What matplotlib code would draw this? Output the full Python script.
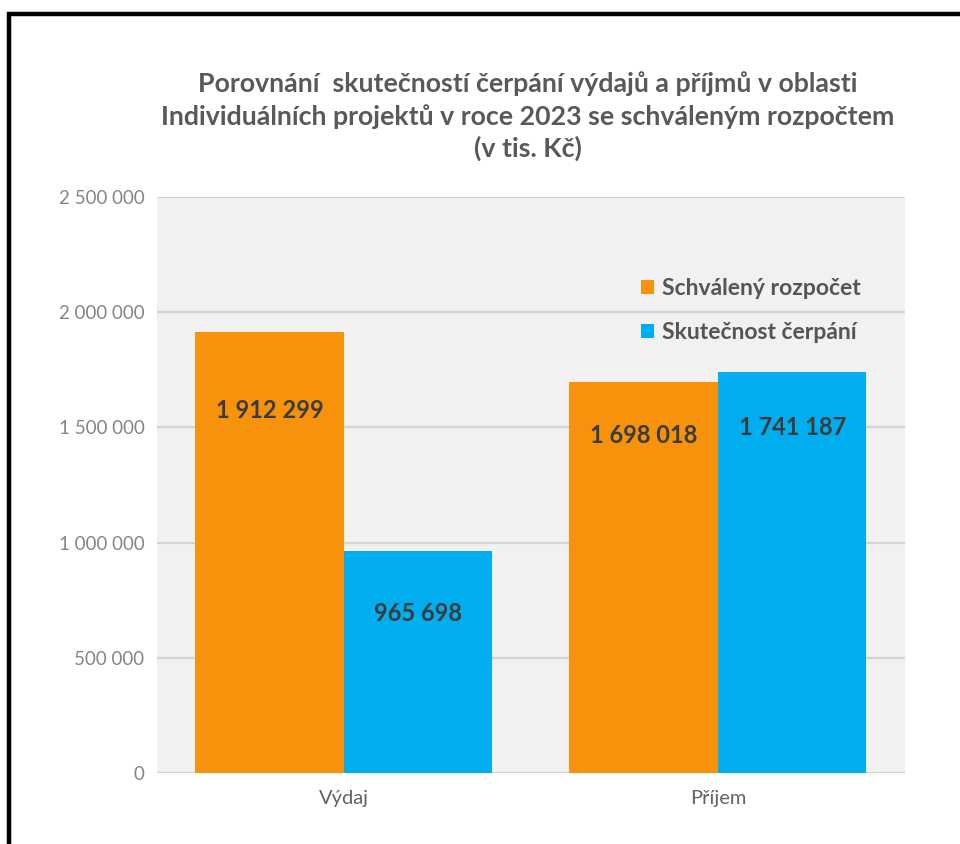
import matplotlib
matplotlib.use("Agg")
import matplotlib.pyplot as plt
from matplotlib.patches import Rectangle
from matplotlib.ticker import FuncFormatter
import numpy as np

# data
categories = ["Výdaj", "Příjem"]
series_names = ["Schválený rozpočet", "Skutečnost čerpání"]
schvaleny = [1912299, 1698018]
skutecnost = [965698, 1741187]
y_ticks = [0, 500000, 1000000, 1500000, 2000000, 2500000]

title = ("Porovnání  skutečností čerpání výdajů a příjmů v oblasti\n"
         "Individuálních projektů v roce 2023 se schváleným rozpočtem\n"
         "(v tis. Kč)")

# style
colors = ["#F7920C", "#00AEEF"]
label_drop_px = [[78, 54], [63, 56]]  # per series, per category
font = ["Lato", "DejaVu Sans"]
plt.rcParams["font.family"] = font


def fmt_thousands(v, pos=None):
    return f"{int(v):,}".replace(",", " ")


fig = plt.figure(figsize=(9.6, 8.44), dpi=100)
ax = fig.add_axes([0.1635, 0.0841, 0.7792, 0.6825])
ax.set_facecolor("#F1F1F1")

x = np.arange(len(categories))
w = 0.397
for i, (vals, name) in enumerate(zip([schvaleny, skutecnost], series_names)):
    offs = (i - 0.5) * w
    ax.bar(x + offs, vals, w, color=colors[i], label=name, zorder=3)
    for j, v in enumerate(vals):
        ax.annotate(fmt_thousands(v), (x[j] + offs, v),
                    xytext=(0, -label_drop_px[i][j]), textcoords="offset pixels",
                    ha="center", va="center", fontsize=17, fontweight="bold",
                    color="#3B3B3B", zorder=4)

ax.set_xlim(-0.5, 1.5)
ax.set_ylim(0, 2500000)
ax.set_yticks(y_ticks)
ax.yaxis.set_major_formatter(FuncFormatter(fmt_thousands))
ax.set_xticks(x)
ax.set_xticklabels(categories)
ax.grid(axis="y", color="#D4D4D4", linewidth=1.6, zorder=0)
for s in ax.spines.values():
    s.set_visible(False)
ax.tick_params(axis="both", length=0)
ax.tick_params(axis="y", pad=9, labelsize=13.5, labelcolor="#858585")
ax.tick_params(axis="x", pad=12, labelsize=14.5, labelcolor="#636363")

leg = ax.legend(loc="upper left", bbox_to_anchor=(0.62, 0.895), frameon=False,
                handlelength=0.55, handleheight=0.55, handletextpad=0.35,
                labelspacing=1.0, prop={"family": font, "weight": "bold", "size": 16.5})
for t in leg.get_texts():
    t.set_color("#555555")

fig.text(0.55, 0.862, title, ha="center", va="center", fontsize=19.3,
         fontweight="bold", color="#595959", linespacing=1.35)

# black frame around the chart (left and top edges visible)
fig.patches.append(Rectangle((9 / 960, -0.05), 1.2, 1 - 14 / 844 + 0.05,
                             transform=fig.transFigure, fill=False,
                             edgecolor="black", linewidth=3.2))

fig.savefig("out.png", dpi=100)
